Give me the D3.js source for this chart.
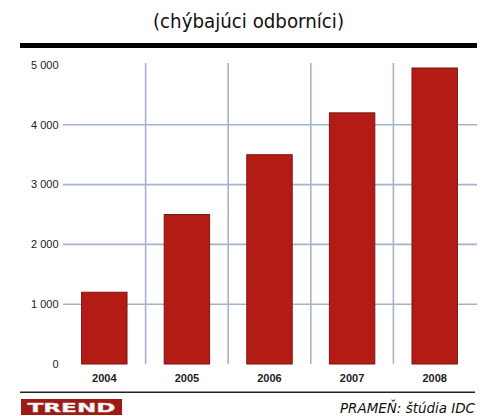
<!DOCTYPE html>
<html>
<head>
<meta charset="utf-8">
<script src="https://cdn.jsdelivr.net/npm/d3@7"></script>
<style>
  body { margin: 0; background: #fff; }
  svg { display: block; }
</style>
</head>
<body>
<svg id="chart"></svg>
<script>
const years = ["2004", "2005", "2006", "2007", "2008"];
const values = [1200, 2500, 3500, 4200, 4950];
const yTicks = [0, 1000, 2000, 3000, 4000, 5000];
const gridTicks = [1000, 2000, 3000, 4000];
const title = "(chýbajúci odborníci)";
const source = "PRAMEŇ: štúdia IDC";

const width = 483;
const height = 416;

const svg = d3.select("#chart")
    .attr("width", width)
    .attr("height", height);

const x = d3.scaleBand()
    .domain(years)
    .range([63, 476])
    .paddingInner(0.45)
    .paddingOuter(0.225);

const y = d3.scaleLinear()
    .domain([0, 5000])
    .range([364, 65]);

// title
svg.append("text")
    .attr("x", 248.5)
    .attr("y", 27.5)
    .attr("text-anchor", "middle")
    .attr("font-family", "'DejaVu Sans Condensed', 'DejaVu Sans', sans-serif")
    .attr("font-size", 19)
    .attr("textLength", 191)
    .attr("lengthAdjust", "spacingAndGlyphs")
    .attr("fill", "#111")
    .text(title);

// thick top rule
svg.append("rect")
    .attr("x", 20).attr("y", 43)
    .attr("width", 457).attr("height", 5)
    .attr("fill", "#000");

// horizontal gridlines
svg.append("g")
    .selectAll("line")
    .data(gridTicks)
    .join("line")
    .attr("x1", 63)
    .attr("x2", 477)
    .attr("y1", d => y(d))
    .attr("y2", d => y(d))
    .attr("stroke", "#a3b4cc")
    .attr("stroke-width", 1.6);

// vertical gridlines between categories
const step = x.step();
svg.append("g")
    .selectAll("line")
    .data(years.slice(0, -1))
    .join("line")
    .attr("x1", d => x(d) + x.bandwidth() + step * x.paddingInner() / 2)
    .attr("x2", d => x(d) + x.bandwidth() + step * x.paddingInner() / 2)
    .attr("y1", 63)
    .attr("y2", 364)
    .attr("stroke", "#a3b4cc")
    .attr("stroke-width", 1.6);

// bars
svg.append("g")
    .selectAll("rect")
    .data(years.map((d, i) => ({ year: d, value: values[i] })))
    .join("rect")
    .attr("x", d => x(d.year))
    .attr("y", d => y(d.value))
    .attr("width", x.bandwidth())
    .attr("height", d => y(0) - y(d.value))
    .attr("fill", "#b31c14")
    .attr("stroke", "#7c1610")
    .attr("stroke-width", 1);

// y tick labels
svg.append("g")
    .selectAll("text")
    .data(yTicks)
    .join("text")
    .attr("x", 58.5)
    .attr("y", d => y(d))
    .attr("dy", "0.35em")
    .attr("text-anchor", "end")
    .attr("font-family", "'Liberation Sans', Arial, sans-serif")
    .attr("font-size", 11)
    .attr("fill", "#222")
    .text(d => d3.format(",")(d).replace(/,/g, " "));

// x labels
svg.append("g")
    .selectAll("text")
    .data(years)
    .join("text")
    .attr("x", d => x(d) + x.bandwidth() / 2)
    .attr("y", 382)
    .attr("text-anchor", "middle")
    .attr("font-family", "'Liberation Sans', Arial, sans-serif")
    .attr("font-weight", "bold")
    .attr("font-size", 11)
    .attr("fill", "#222")
    .text(d => d);

// bottom rule
svg.append("rect")
    .attr("x", 20).attr("y", 391.5)
    .attr("width", 455).attr("height", 1.5)
    .attr("fill", "#222");

// TREND logo
const logo = svg.append("g");
logo.append("rect")
    .attr("x", 21).attr("y", 399)
    .attr("width", 101).attr("height", 16)
    .attr("fill", "#9e1a14");
logo.append("text")
    .attr("x", 71.5)
    .attr("y", 412)
    .attr("text-anchor", "middle")
    .attr("font-family", "'DejaVu Sans', sans-serif")
    .attr("font-weight", "bold")
    .attr("font-size", 13)
    .attr("textLength", 88)
    .attr("lengthAdjust", "spacingAndGlyphs")
    .attr("fill", "#fff")
    .attr("stroke", "#d9d9d9")
    .attr("stroke-width", 0.4)
    .text("TREND");

// source
svg.append("text")
    .attr("x", 475)
    .attr("y", 413)
    .attr("text-anchor", "end")
    .attr("font-family", "'DejaVu Sans Condensed', 'DejaVu Sans', sans-serif")
    .attr("font-style", "italic")
    .attr("font-size", 13.5)
    .attr("textLength", 135)
    .attr("lengthAdjust", "spacingAndGlyphs")
    .attr("fill", "#111")
    .text(source);
</script>
</body>
</html>
